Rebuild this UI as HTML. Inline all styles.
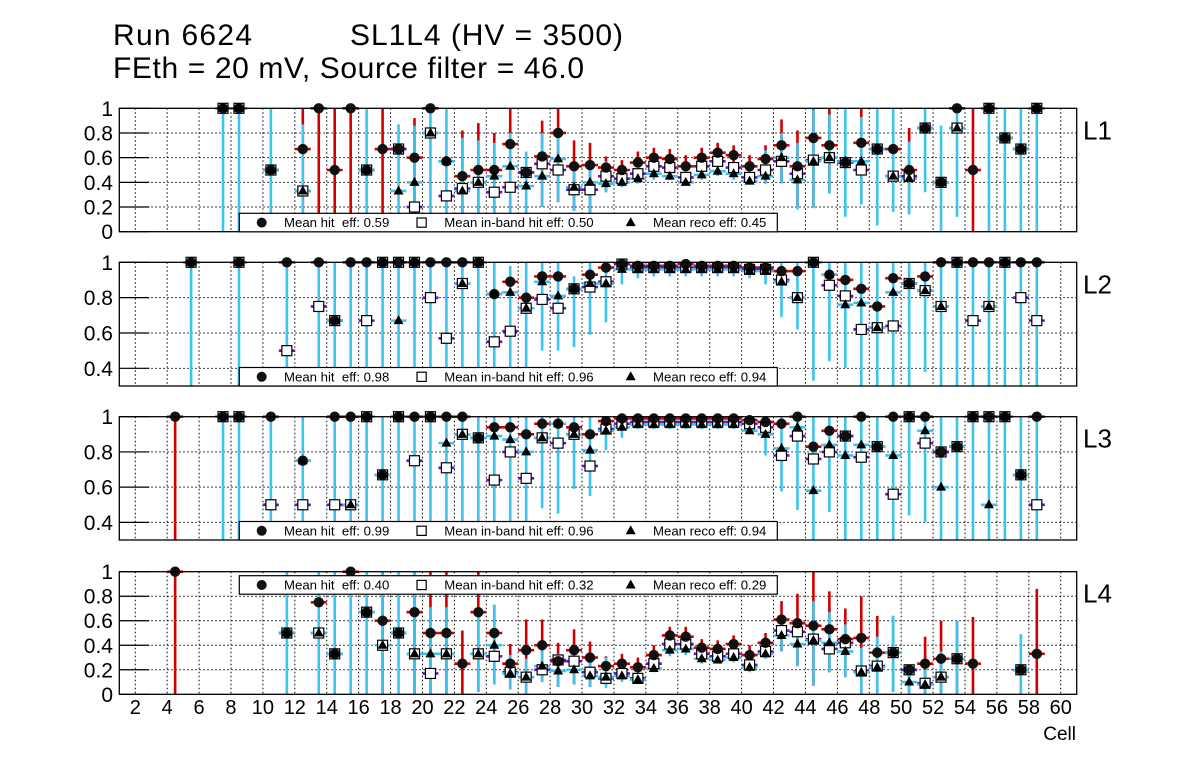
<!DOCTYPE html>
<html><head><meta charset="utf-8"><style>
html,body{margin:0;padding:0;background:#fff;}
svg{display:block;font-family:"Liberation Sans",Arial,sans-serif;}
</style></head><body>
<svg id="chart" width="1196" height="772" viewBox="0 0 1196 772" xmlns="http://www.w3.org/2000/svg">
<rect x="0" y="0" width="1196" height="772" fill="#fff"/>
<text x="113" y="45" font-size="30" textLength="139">Run 6624</text>
<text x="350" y="45" font-size="30" textLength="273">SL1L4 (HV = 3500)</text>
<text x="113" y="78" font-size="30" textLength="471">FEth = 20 mV, Source filter = 46.0</text>
<g id="plots"></g>
</svg>
<script>
// ---------- data (bin centres in cell units) ----------
const l1Cells=[7.5,8.5,10.5,12.5,13.5,14.5,15.5,16.5,17.5,18.5,19.5,20.5,21.5,22.5,23.5,24.5,25.5,26.5,27.5,28.5,29.5,30.5,31.5,32.5,33.5,34.5,35.5,36.5,37.5,38.5,39.5,40.5,41.5,42.5,43.5,44.5,45.5,46.5,47.5,48.5,49.5,50.5,51.5,52.5,53.5,54.5,55.5,56.5,57.5,58.5];
const l1Hit=[1,1,.5,.67,1,.5,1,.5,.67,.67,.6,1,.57,.45,.5,.5,.71,.48,.61,.8,.53,.54,.52,.5,.56,.6,.59,.53,.6,.64,.62,.53,.59,.7,.53,.76,.7,.56,.72,.67,.67,.5,.84,.4,1,.5,1,.76,.67,1];
const l1Inb=[1,1,.5,.33,null,null,null,.5,null,.67,.2,.8,.29,.35,.4,.32,.36,.48,.55,.5,.34,.34,.45,.43,.47,.53,.52,.44,.53,.57,.52,.44,.5,.57,.47,.58,.6,.56,.5,.67,.45,.45,.84,.4,.84,null,1,.76,.67,1];
const l1Reco=[1,1,.5,.33,null,null,null,.5,null,.33,.4,.8,.57,.33,.4,.45,.53,.37,.45,.59,.36,.4,.39,.4,.43,.47,.45,.4,.46,.49,.47,.41,.45,.6,.42,.57,.6,.57,.57,.67,.45,.43,.84,.4,.84,null,1,.76,.67,1];
const l1RecoLo=[0,0,0,0,null,null,null,0,null,0,0,0,0,0,0,.05,.08,.1,.2,.24,.17,.15,.32,.36,.39,.42,.42,.38,.42,.45,.42,.38,.39,.39,.18,.19,.31,.12,.22,.05,.16,.14,.32,0,.12,null,0,0,0,0];
const l1RecoHi=[1,1,1,.87,null,null,null,1,null,.87,.86,1,1,.76,.74,.72,.8,.65,.8,.79,.55,.57,.57,.49,.53,.54,.54,.5,.55,.58,.55,.5,.66,.8,.72,.99,.95,1,.93,1,1,.73,1,.86,1,null,1,1,1,1];
const l1HitLo=[null,null,null,0,0,0,0,null,0,null,0,null,null,0,0,0,0,null,.2,.24,.17,.15,.32,.4,.45,.5,.5,.45,.5,.55,.52,.45,.39,.4,.2,.2,.31,null,.22,null,null,.14,null,null,null,0,null,null,null,null];
const l1HitHi=[null,null,null,1,1,1,1,null,1,null,.92,null,null,.82,.88,.8,1,null,.9,1,.74,.72,.61,.58,.65,.68,.67,.62,.68,.72,.7,.62,.7,.91,.82,1,1,null,1,null,null,.84,null,null,null,1,null,null,null,null];

const l2Cells=[5.5,8.5,11.5,13.5,14.5,15.5,16.5,17.5,18.5,19.5,20.5,21.5,22.5,23.5,24.5,25.5,26.5,27.5,28.5,29.5,30.5,31.5,32.5,33.5,34.5,35.5,36.5,37.5,38.5,39.5,40.5,41.5,42.5,43.5,44.5,45.5,46.5,47.5,48.5,49.5,50.5,51.5,52.5,53.5,54.5,55.5,56.5,57.5,58.5];
const l2Hit=[1,1,1,1,.67,1,1,1,1,1,1,1,1,1,.82,.89,.8,.92,.92,.85,.93,.97,.99,.98,.98,.98,.99,.98,.98,.98,.97,.97,.95,.95,1,.93,.9,.85,.75,.91,.88,.92,1,1,1,1,1,1,1];
const l2Inb=[1,1,.5,.75,.67,null,.67,1,1,1,.8,.57,.88,1,.55,.61,.74,.79,.74,.85,.86,.89,.99,.97,.97,.97,.97,.97,.97,.97,.96,.96,.9,.8,1,.87,.81,.62,.63,.64,.88,.84,.75,1,.67,.75,1,.8,.67];
const l2Reco=[1,1,null,null,.67,null,null,1,.67,1,null,null,.88,1,.82,.83,.74,.89,.81,.85,.88,.88,.96,.96,.96,.96,.96,.96,.96,.96,.95,.95,.89,.8,1,.93,.76,.77,.63,.83,.88,.84,.75,1,null,.75,1,null,null];
const l2RecoLo=[.3,.3,.3,.3,.3,.3,.3,.3,.3,.3,.3,.3,.3,.3,.3,.3,.3,.5,.5,.52,.59,.66,.875,.91,.92,.92,.92,.92,.92,.92,.91,.875,.69,.62,.33,.44,.4,.3,.3,.3,.3,.38,.3,.3,.3,.3,.3,.3,.3];
const l2RecoHi=[1,1,1,1,1,1,1,1,1,1,1,1,1,1,1,.98,1,1,1,.92,1,1,1,.99,.99,.99,.99,.99,.99,.99,.99,1,1,1,1,1,1,1,1,1,1,1,1,1,1,1,1,1,1];
const l2HitLo=[null,null,null,null,null,null,null,null,null,null,null,null,null,null,null,null,null,null,null,null,null,null,null,null,null,null,null,null,null,null,null,null,null,null,null,null,null,null,null,null,null,null,null,null,null,null,null,null,null];
const l2HitHi=l2HitLo.slice();

const l3Cells=[4.5,7.5,8.5,10.5,12.5,14.5,15.5,16.5,17.5,18.5,19.5,20.5,21.5,22.5,23.5,24.5,25.5,26.5,27.5,28.5,29.5,30.5,31.5,32.5,33.5,34.5,35.5,36.5,37.5,38.5,39.5,40.5,41.5,42.5,43.5,44.5,45.5,46.5,47.5,48.5,49.5,50.5,51.5,52.5,53.5,54.5,55.5,56.5,57.5,58.5];
const l3Hit=[1,1,1,1,.75,1,1,1,.67,1,1,1,1,1,.88,.94,.94,.9,.96,.96,.94,.9,.975,.99,.99,.99,.99,.99,.99,.99,.99,.98,.97,.96,1,.83,.92,.89,1,.83,1,1,1,.8,.83,1,1,1,.67,1];
const l3Inb=[null,1,1,.5,.5,.5,.5,1,.67,1,.75,1,.71,.9,.88,.64,.8,.65,.88,.85,.9,.72,.93,.96,.97,.97,.97,.97,.97,.97,.97,.96,.94,.78,.89,.76,.8,.89,.77,.83,.56,1,.85,.8,.83,1,1,1,.67,.5];
const l3Reco=[null,1,1,null,.75,null,.5,1,.67,1,null,1,.85,.9,.88,.89,.87,.8,.88,.96,.9,.81,.92,.94,.955,.955,.955,.955,.955,.955,.955,.92,.9,.82,.94,.58,.84,.78,.84,.83,.78,1,.92,.6,.83,1,.5,1,.67,null];
const l3RecoLo=[null,.3,.3,.3,.3,.3,.3,.3,.3,.3,.3,.3,.3,.3,.3,.3,.3,.33,.48,.45,.59,.55,.81,.88,.93,.93,.93,.93,.93,.93,.93,.9,.78,.575,.47,.3,.46,.3,.3,.3,.3,.44,.4,.3,.3,.3,.3,.3,.3,.3];
const l3RecoHi=[null,1,1,1,1,1,1,1,1,1,1,1,1,1,1,1,1,1,1,1,1,1,1,1,.99,.99,.99,.99,.99,.99,.99,.99,.97,1,1,1,1,1,1,1,1,1,1,1,1,1,1,1,1,1];
const l3HitLo=[.3,null,null,null,null,null,null,null,null,null,null,null,null,null,null,null,null,null,null,null,null,null,null,null,null,null,null,null,null,null,null,null,null,null,null,null,null,null,null,null,null,null,null,null,null,null,null,null,null,null];
const l3HitHi=[1,null,null,null,null,null,null,null,null,null,null,null,null,null,null,null,null,null,null,null,null,null,null,null,null,null,null,null,null,null,null,null,null,null,null,null,null,null,null,null,null,null,null,null,null,null,null,null,null,null];

const l4Cells=[4.5,11.5,13.5,14.5,15.5,16.5,17.5,18.5,19.5,20.5,21.5,22.5,23.5,24.5,25.5,26.5,27.5,28.5,29.5,30.5,31.5,32.5,33.5,34.5,35.5,36.5,37.5,38.5,39.5,40.5,41.5,42.5,43.5,44.5,45.5,46.5,47.5,48.5,49.5,50.5,51.5,52.5,53.5,54.5,57.5,58.5];
const l4Hit=[1,.5,.75,.33,1,.67,.6,.5,.67,.5,.5,.25,.67,.5,.25,.36,.4,.27,.36,.3,.23,.25,.22,.32,.48,.47,.38,.37,.41,.32,.42,.61,.58,.56,.53,.45,.46,.34,.34,.2,.25,.29,.29,.25,.2,.33];
const l4Inb=[null,.5,.5,.33,null,.67,.4,.5,.33,.17,.33,null,.33,.31,.18,.14,.2,.28,.27,.18,.13,.17,.13,.25,.41,.41,.33,.31,.33,.24,.35,.52,.51,.45,.37,.42,.19,.23,.34,.2,.09,.14,.29,null,.2,null];
const l4Reco=[null,.5,.5,.33,null,.67,.4,.5,.33,.33,.33,null,.33,.4,.17,.14,.23,.19,.2,.15,.14,.15,.12,.21,.36,.37,.29,.28,.3,.22,.33,.48,.41,.44,.42,.35,.18,.22,.34,.1,.08,.14,.29,null,.2,null];
const l4RecoLo=[null,0,0,0,0,0,0,0,0,0,0,null,.02,.08,.04,0,.1,.06,.08,.06,.05,.1,.09,.18,.31,.32,.25,.25,.26,.18,.29,.35,.23,.07,.18,.14,0,0,.02,0,0,0,0,null,0,null];
const l4RecoHi=[null,1,1,1,1,1,1,1,1,.71,.71,null,.67,.73,.32,.29,.39,.33,.39,.28,.3,.23,.18,.29,.46,.45,.36,.36,.37,.29,.43,.59,.57,.76,.67,.57,.38,.47,.64,.2,.2,.35,.6,null,.49,null];
const l4HitLo=[0,null,null,null,null,null,0,null,0,0,0,0,.02,.08,.04,0,.1,.06,.08,.06,.1,.15,.15,.25,.4,.4,.32,.3,.34,.26,.35,.35,.23,.07,.18,.14,0,0,.02,0,0,0,0,0,null,0];
const l4HitHi=[1,null,null,null,null,null,1,null,1,1,1,.52,1,.73,.41,.61,.61,.42,.53,.43,.31,.33,.3,.4,.55,.55,.45,.44,.48,.4,.5,.76,.82,1,.84,.7,.8,.64,.64,.2,.47,.6,.6,.63,null,.86];

const xTicks=[2,4,6,8,10,12,14,16,18,20,22,24,26,28,30,32,34,36,38,40,42,44,46,48,50,52,54,56,58,60];
const l1YTicks=[0,0.2,0.4,0.6,0.8,1];
const l2YTicks=[0.4,0.6,0.8,1];
const legendL1=["Mean hit  eff: 0.59","Mean in-band hit eff: 0.50","Mean reco eff: 0.45"];
const legendL2=["Mean hit  eff: 0.98","Mean in-band hit eff: 0.96","Mean reco eff: 0.94"];
const legendL3=["Mean hit  eff: 0.99","Mean in-band hit eff: 0.96","Mean reco eff: 0.94"];
const legendL4=["Mean hit  eff: 0.40","Mean in-band hit eff: 0.32","Mean reco eff: 0.29"];

// ---------- drawing ----------
const NS="http://www.w3.org/2000/svg";
const root=document.getElementById('plots');
const X0=119.3,X1=1076.7,CMIN=1,CMAX=61;
function xs(c){return X0+(c-CMIN)*(X1-X0)/(CMAX-CMIN);}
const RED="#d00000",PUR="#6a10c8",CYAN="#3cc3f0";
function mk(tag,attrs,parent){const e=document.createElementNS(NS,tag);for(const k in attrs)e.setAttribute(k,attrs[k]);(parent||root).appendChild(e);return e;}

function panel(name,top,bot,vmin,vmax,yt,label,leg,legTop,cells,hit,inb,reco,rLo,rHi,hLo,hHi){
  const g=mk('g',{});
  
  
  const ys=v=>bot-(v-vmin)*(bot-top)/(vmax-vmin);
  const cl=v=>Math.max(vmin,Math.min(vmax,v));
  xTicks.forEach(t=>{const l=mk('line',{x1:xs(t),x2:xs(t),y1:top,y2:bot,stroke:'#000','stroke-width':1,'stroke-dasharray':'1.5,2.5'},g);
    });
  yt.forEach(t=>{
    if(t>vmin&&t<vmax){const l=mk('line',{x1:X0,x2:X1,y1:ys(t),y2:ys(t),stroke:'#000','stroke-width':1,'stroke-dasharray':'1.5,2.5'},g);
      }
    const tk=mk('line',{x1:X0,x2:X0+30,y1:ys(t),y2:ys(t),stroke:'#000','stroke-width':1.2},g);
    
    const tx=mk('text',{x:113,y:ys(t)+7.5,'font-size':21,'text-anchor':'end'},g);
    tx.textContent=(t===0||t===1)?String(t):t.toFixed(1);
    
  });
  const hw=(xs(2)-xs(1))*0.5;
  function bars(vals,lo,hi,col,nm){
    cells.forEach((c,i)=>{
      const x=xs(c);
      if(lo&&lo[i]!=null&&hi[i]!=null){const b=mk('line',{x1:x,x2:x,y1:ys(cl(lo[i])),y2:ys(cl(hi[i])),stroke:col,'stroke-width':2.6},g);
        }
      if(vals[i]!=null&&vals[i]>=vmin){const h=mk('line',{x1:x-hw,x2:x+hw,y1:ys(vals[i]),y2:ys(vals[i]),stroke:col,'stroke-width':2.6},g);
        }
    });
  }
  bars(hit,hLo,hHi,RED,'hit');
  bars(inb,null,null,PUR,'inband');
  bars(reco,rLo,rHi,CYAN,'reco');
  const ok=v=>v!=null&&v>=vmin-1e-9;
  const S=5;
  cells.forEach((c,i)=>{if(ok(inb[i])){const s=mk('rect',{x:xs(c)-S,y:ys(inb[i])-S,width:2*S,height:2*S,fill:'#fff'},g);
    }});
  cells.forEach((c,i)=>{if(ok(hit[i])){const m=mk('circle',{cx:xs(c),cy:ys(hit[i]),r:5.2,fill:'#111'},g);
    }});
  cells.forEach((c,i)=>{if(ok(inb[i])){const s=mk('rect',{x:xs(c)-S,y:ys(inb[i])-S,width:2*S,height:2*S,fill:'none',stroke:'#000','stroke-width':1.2},g);
    }});
  cells.forEach((c,i)=>{if(ok(reco[i])){const x=xs(c),y=ys(reco[i]);
    const t=mk('polygon',{points:`${x},${y-5.5} ${x-5},${y+3.5} ${x+5},${y+3.5}`,fill:'#000'},g);
    }});
  const f=mk('rect',{x:X0,y:top,width:X1-X0,height:bot-top,fill:'none',stroke:'#000','stroke-width':1.3},g);
  
  const lg=mk('g',{},g);
  
  mk('rect',{x:239.3,y:legTop,width:538,height:18.5,fill:'#fff',stroke:'#000','stroke-width':1.2},lg);
  const cy=legTop+9.3;
  mk('circle',{cx:261.7,cy:cy,r:5,fill:'#111'},lg);
  mk('rect',{x:417,y:cy-4.6,width:9.2,height:9.2,fill:'#fff',stroke:'#000','stroke-width':1.2},lg);
  mk('polygon',{points:`630.7,${cy-5.5} 625.7,${cy+3.5} 635.7,${cy+3.5}`,fill:'#000'},lg);
  [[284,leg[0]],[444.3,leg[1]],[653,leg[2]]].forEach(([x,s])=>{const t=mk('text',{x:x,y:cy+4.6,'font-size':13.2},lg);
    t.setAttribute('style','white-space:pre');t.textContent=s;
    });
  const L=mk('text',{x:1083,y:top+31,'font-size':26},g);
  L.textContent=label;
  
}
panel('l1',108.3,231.7,0,1,l1YTicks,'L1',legendL1,213.3,l1Cells,l1Hit,l1Inb,l1Reco,l1RecoLo,l1RecoHi,l1HitLo,l1HitHi);
panel('l2',262.3,386,0.3,1,l2YTicks,'L2',legendL2,367.5,l2Cells,l2Hit,l2Inb,l2Reco,l2RecoLo,l2RecoHi,l2HitLo,l2HitHi);
panel('l3',416.7,540,0.3,1,l2YTicks,'L3',legendL3,521.5,l3Cells,l3Hit,l3Inb,l3Reco,l3RecoLo,l3RecoHi,l3HitLo,l3HitHi);
panel('l4',571.7,694.3,0,1,l1YTicks,'L4',legendL4,575.7,l4Cells,l4Hit,l4Inb,l4Reco,l4RecoLo,l4RecoHi,l4HitLo,l4HitHi);
xTicks.forEach(t=>{const tx=mk('text',{x:xs(t),y:714,'font-size':20,'text-anchor':'middle'});
  tx.textContent=String(t);
  });
const ct=mk('text',{x:1076,y:740,'font-size':19,'text-anchor':'end'});
ct.textContent='Cell';

</script>
</body></html>
